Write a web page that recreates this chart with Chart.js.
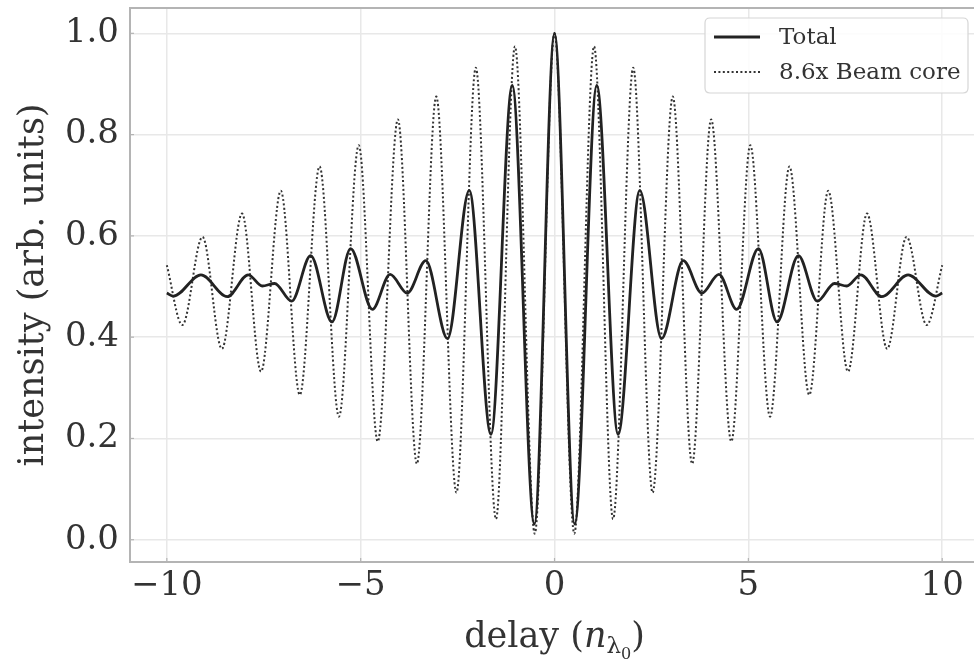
<!DOCTYPE html>
<html>
<head>
<meta charset="utf-8">
<script src="https://cdn.jsdelivr.net/npm/chart.js@4/dist/chart.umd.min.js"></script>
<style>
  html, body { margin: 0; padding: 0; background: #ffffff; }
  #wrap { width: 974px; height: 661px; }
</style>
</head>
<body>
<div id="wrap"><canvas id="c" width="974" height="661"></canvas></div>
<script>
// ---- data ----
const totalX = [-10, -9.83, -9.12, -8.44, -7.9, -7.54, -7.22, -6.78, -6.29, -5.74, -5.26, -4.7, -4.24, -3.8, -3.32, -2.76, -2.2, -1.64, -1.09, -0.52, 0,
                0.52, 1.09, 1.64, 2.2, 2.76, 3.32, 3.8, 4.24, 4.7, 5.26, 5.74, 6.29, 6.78, 7.22, 7.54, 7.9, 8.44, 9.12, 9.83, 10];
const totalY = [0.487, 0.481, 0.523, 0.48, 0.523, 0.501, 0.506, 0.471, 0.561, 0.43, 0.575, 0.455, 0.524, 0.487, 0.551, 0.397, 0.69, 0.208, 0.897, 0.031, 1.0,
                0.031, 0.897, 0.208, 0.69, 0.397, 0.551, 0.487, 0.524, 0.455, 0.575, 0.43, 0.561, 0.471, 0.506, 0.501, 0.523, 0.48, 0.523, 0.481, 0.487];

const coreX = [-10, -9.6, -9.08, -8.58, -8.06, -7.57, -7.06, -6.57, -6.06, -5.56, -5.05, -4.56, -4.04, -3.55, -3.05, -2.53, -2.03, -1.51, -1.02, -0.51, 0,
               0.51, 1.02, 1.51, 2.03, 2.53, 3.05, 3.55, 4.04, 4.56, 5.05, 5.56, 6.06, 6.57, 7.06, 7.57, 8.06, 8.58, 9.08, 9.6, 10];
const coreY = [0.542, 0.424, 0.598, 0.377, 0.644, 0.332, 0.689, 0.286, 0.737, 0.243, 0.779, 0.194, 0.83, 0.15, 0.875, 0.093, 0.932, 0.041, 0.974, 0.012, 1.0,
               0.012, 0.974, 0.041, 0.932, 0.093, 0.875, 0.15, 0.83, 0.194, 0.779, 0.243, 0.737, 0.286, 0.689, 0.332, 0.644, 0.377, 0.598, 0.424, 0.542];

const xTicks = [-10, -5, 0, 5, 10];
const yTicks = [0.0, 0.2, 0.4, 0.6, 0.8, 1.0];
const seriesNames = ['Total', '8.6x Beam core'];
const xTitleParts = ['delay (', 'n', 'λ', '0', ')'];
const yTitle = 'intensity (arb. units)';

// ---- styles ----
const FONT = "'DejaVu Serif', serif";
const SPINE = '#b4b4b4';
const GRID = '#e8e8e8';
const INK = '#222222';

function toPts(xs, ys) { return xs.map((x, i) => ({ x: x, y: ys[i] })); }

const framePlugin = {
  id: 'frame',
  beforeDatasetsDraw(chart) {
    const { ctx, chartArea: a, scales } = chart;
    ctx.save();
    ctx.strokeStyle = SPINE;
    ctx.lineWidth = 1.2;
    xTicks.forEach(v => {
      const px = scales.x.getPixelForValue(v);
      ctx.beginPath(); ctx.moveTo(px, a.bottom); ctx.lineTo(px, a.bottom - 4); ctx.stroke();
    });
    yTicks.forEach(v => {
      const py = scales.y.getPixelForValue(v);
      ctx.beginPath(); ctx.moveTo(a.left, py); ctx.lineTo(a.left + 4, py); ctx.stroke();
    });
    ctx.restore();
  },
  afterDraw(chart) {
    const { ctx, chartArea: a } = chart;
    ctx.save();
    ctx.strokeStyle = SPINE;
    ctx.lineWidth = 2;
    ctx.strokeRect(a.left, a.top, a.right - a.left + 4, a.bottom - a.top);

    // legend (matplotlib style)
    const lx = 705, ly = 18, lw = 263, lh = 75, r = 5;
    ctx.beginPath();
    ctx.moveTo(lx + r, ly);
    ctx.lineTo(lx + lw - r, ly); ctx.quadraticCurveTo(lx + lw, ly, lx + lw, ly + r);
    ctx.lineTo(lx + lw, ly + lh - r); ctx.quadraticCurveTo(lx + lw, ly + lh, lx + lw - r, ly + lh);
    ctx.lineTo(lx + r, ly + lh); ctx.quadraticCurveTo(lx, ly + lh, lx, ly + lh - r);
    ctx.lineTo(lx, ly + r); ctx.quadraticCurveTo(lx, ly, lx + r, ly);
    ctx.closePath();
    ctx.fillStyle = 'rgba(255,255,255,0.85)';
    ctx.fill();
    ctx.strokeStyle = '#d6d6d6';
    ctx.lineWidth = 1.2;
    ctx.stroke();

    const ds = chart.data.datasets;
    const rows = [37, 72];
    ds.forEach((d, i) => {
      ctx.strokeStyle = d.borderColor;
      ctx.lineWidth = d.borderWidth;
      ctx.setLineDash(d.borderDash || []);
      ctx.beginPath(); ctx.moveTo(714, rows[i]); ctx.lineTo(760, rows[i]); ctx.stroke();
      ctx.setLineDash([]);
      ctx.fillStyle = '#333333';
      ctx.font = '23px ' + FONT;
      ctx.textBaseline = 'middle';
      ctx.textAlign = 'left';
      ctx.fillText(d.label, 779, rows[i] + 1);
    });

    // x-axis title with italic n and subscript lambda_0
    const base = 647, cx = chart.scales.x.getPixelForValue(0);
    const fN = '35px ' + FONT, fI = 'italic 35px ' + FONT, fS = '23px ' + FONT, fSS = '16px ' + FONT;
    const parts = [
      { t: xTitleParts[0], f: fN, dy: 0 },
      { t: xTitleParts[1], f: fI, dy: 0 },
      { t: xTitleParts[2], f: fS, dy: 6 },
      { t: xTitleParts[3], f: fSS, dy: 12 },
      { t: xTitleParts[4], f: fN, dy: 0 }
    ];
    let total = 0;
    parts.forEach(p => { ctx.font = p.f; p.w = ctx.measureText(p.t).width; total += p.w; });
    let x = cx - total / 2;
    ctx.fillStyle = '#333333';
    ctx.textBaseline = 'alphabetic';
    ctx.textAlign = 'left';
    parts.forEach(p => { ctx.font = p.f; ctx.fillText(p.t, x, base + p.dy); x += p.w; });
    ctx.restore();
  }
};

new Chart(document.getElementById('c'), {
  type: 'line',
  data: {
    datasets: [
      {
        label: seriesNames[0],
        data: toPts(totalX, totalY),
        borderColor: INK,
        borderWidth: 2.8,
        pointRadius: 0,
        cubicInterpolationMode: 'monotone',
        fill: false,
        order: 0
      },
      {
        label: seriesNames[1],
        data: toPts(coreX, coreY),
        borderColor: '#333333',
        borderWidth: 2,
        borderDash: [2, 2.4],
        pointRadius: 0,
        cubicInterpolationMode: 'monotone',
        fill: false,
        order: 1
      }
    ]
  },
  options: {
    responsive: false,
    animation: false,
    devicePixelRatio: 1,
    layout: { padding: { top: 8, right: 0, left: 0, bottom: 0 } },
    plugins: {
      legend: { display: false },
      tooltip: { enabled: false }
    },
    scales: {
      x: {
        type: 'linear',
        min: -10.95,
        max: 10.82,
        afterBuildTicks(s) { s.ticks = xTicks.map(v => ({ value: v })); },
        afterFit(s) { s.height = 99; s.paddingLeft = 0; s.paddingRight = 0; },
        grid: { color: GRID, lineWidth: 1.5, drawTicks: false },
        border: { display: false },
        ticks: {
          padding: 4,
          color: '#333333',
          font: { family: FONT, size: 34 },
          maxRotation: 0,
          callback: v => (v < 0 ? '\u2212' + Math.abs(v) : String(v))
        },
        title: { display: false }
      },
      y: {
        type: 'linear',
        min: -0.044,
        max: 1.05,
        afterBuildTicks(s) { s.ticks = yTicks.map(v => ({ value: v })); },
        afterFit(s) { s.width = 130; s.paddingTop = 0; s.paddingBottom = 0; },
        grid: { color: GRID, lineWidth: 1.5, drawTicks: false },
        border: { display: false },
        ticks: {
          padding: 11,
          color: '#333333',
          font: { family: FONT, size: 34 },
          callback: v => Number(v).toFixed(1)
        },
        title: {
          display: true,
          text: yTitle,
          color: '#333333',
          font: { family: FONT, size: 35 },
          padding: { top: 13, bottom: 0 }
        }
      }
    }
  },
  plugins: [framePlugin]
});
</script>
</body>
</html>
